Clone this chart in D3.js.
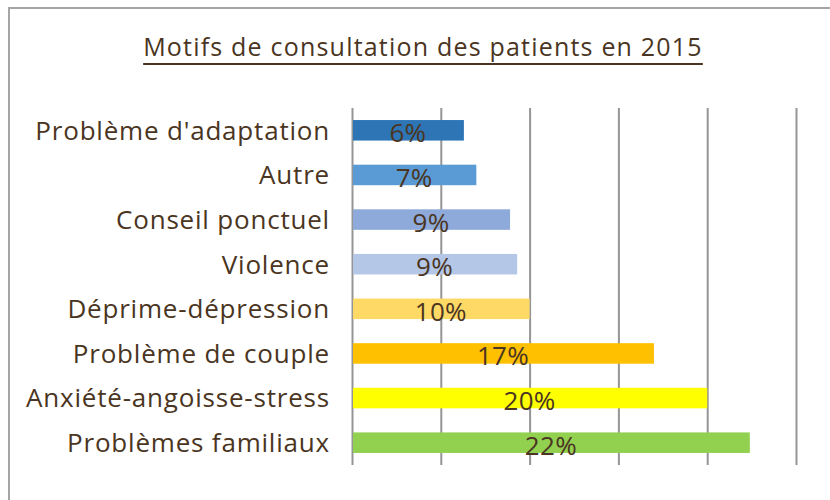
<!DOCTYPE html>
<html>
<head>
<meta charset="utf-8">
<script src="https://cdn.jsdelivr.net/npm/d3@7"></script>
<style>
  body { margin: 0; background: #fff; }
  svg { display: block; }
  text { font-family: "Open Sans", "DejaVu Sans", sans-serif; fill: #4a3522; }
</style>
</head>
<body>
<svg id="chart"></svg>
<script>
// data
var categories = ["Problème d'adaptation", "Autre", "Conseil ponctuel", "Violence",
                  "Déprime-dépression", "Problème de couple", "Anxiété-angoisse-stress",
                  "Problèmes familiaux"];
var values = [6.3, 7.0, 8.9, 9.3, 10.0, 17.0, 20.0, 22.4];
var valueLabels = ["6%", "7%", "9%", "9%", "10%", "17%", "20%", "22%"];
var gridTicks = [0, 5, 10, 15, 20, 25];
var palette = ["#2e75b6", "#5b9bd5", "#8eaadb", "#b4c7e7",
               "#ffd966", "#ffc000", "#ffff00", "#92d050"];
var title = "Motifs de consultation des patients en 2015";

var screen = {width: 830, height: 500};
var plot = {left: 352, right: 796, top: 108, bottom: 465};

var svg = d3.select("#chart")
    .attr("width", screen.width)
    .attr("height", screen.height);

// chart frame (runs off the right/bottom of the picture)
svg.append("rect")
    .attr("x", 9).attr("y", 8)
    .attr("width", 840).attr("height", 520)
    .attr("fill", "#fff")
    .attr("stroke", "#a5a5a5")
    .attr("stroke-width", 2);

var xScale = d3.scaleLinear()
    .domain([0, 25])
    .range([plot.left, plot.right]);

var yScale = d3.scaleBand()
    .domain(categories)
    .range([plot.top, plot.bottom])
    .paddingInner(0.54)
    .paddingOuter(0.27);

// vertical gridlines
var grid = svg.append("g")
    .attr("transform", "translate(0," + plot.top + ")")
    .call(d3.axisBottom(xScale)
        .tickValues(gridTicks)
        .tickSize(plot.bottom - plot.top)
        .tickFormat(""));
grid.select(".domain").remove();
grid.selectAll(".tick line")
    .attr("stroke", "#959595")
    .attr("stroke-width", 2);

// bars
svg.append("g")
    .selectAll("rect")
    .data(values)
    .enter()
    .append("rect")
    .attr("x", xScale(0) + 1)
    .attr("y", function(d, i) { return yScale(categories[i]); })
    .attr("width", function(d) { return xScale(d) - xScale(0) - 1; })
    .attr("height", yScale.bandwidth())
    .attr("fill", function(d, i) { return palette[i]; });

// value labels
svg.append("g")
    .selectAll("text")
    .data(values)
    .enter()
    .append("text")
    .attr("x", function(d) { return (xScale(0) + xScale(d)) / 2; })
    .attr("y", function(d, i) { return yScale(categories[i]) + yScale.bandwidth() / 2 + 2; })
    .attr("text-anchor", "middle")
    .attr("dominant-baseline", "central")
    .style("font-size", "26px")
    .style("letter-spacing", "0.3px")
    .text(function(d, i) { return valueLabels[i]; });

// category axis
var yAxis = svg.append("g")
    .attr("transform", "translate(" + plot.left + ",0)")
    .call(d3.axisLeft(yScale).tickSize(0).tickPadding(22));
yAxis.select(".domain").remove();
yAxis.selectAll("text")
    .attr("fill", "#4a3522")
    .style("font-family", "'Open Sans', 'DejaVu Sans', sans-serif")
    .style("font-size", "26px")
    .style("letter-spacing", "0.8px")
    .attr("dy", "0.36em");

// title with underline
var t = svg.append("text")
    .attr("x", 423)
    .attr("y", 56)
    .attr("text-anchor", "middle")
    .style("font-size", "25px")
    .style("letter-spacing", "1.2px")
    .text(title);
var bb = t.node().getBBox();
svg.append("line")
    .attr("x1", bb.x).attr("x2", bb.x + bb.width)
    .attr("y1", 64).attr("y2", 64)
    .attr("stroke", "#4a3522")
    .attr("stroke-width", 2);
</script>
</body>
</html>
